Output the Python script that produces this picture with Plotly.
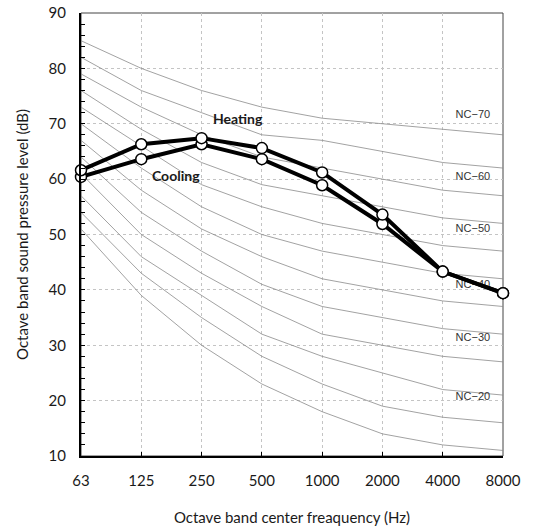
import plotly.graph_objects as go

# ---- data ----
freq_labels = ["63", "125", "250", "500", "1000", "2000", "4000", "8000"]
x_idx = list(range(len(freq_labels)))

nc_15 = [51, 39, 30, 23, 18, 14, 12, 11]
nc_20 = [54, 43, 35, 28, 23, 19, 17, 16]
nc_25 = [57, 46, 39, 32, 28, 25, 22, 21]
nc_30 = [61, 50, 43, 37, 32, 30, 28, 27]
nc_35 = [64, 54, 47, 41, 37, 35, 33, 32]
nc_40 = [67, 58, 51, 46, 42, 40, 38, 37]
nc_45 = [70, 62, 55, 50, 47, 45, 43, 42]
nc_50 = [73, 66, 59, 55, 52, 50, 48, 47]
nc_55 = [76, 69, 63, 59, 57, 55, 53, 52]
nc_60 = [79, 73, 68, 64, 62, 60, 58, 57]
nc_65 = [82, 76, 72, 68, 67, 65, 63, 62]
nc_70 = [85, 80, 76, 73, 71, 70, 69, 68]
nc_curves = [nc_15, nc_20, nc_25, nc_30, nc_35, nc_40,
             nc_45, nc_50, nc_55, nc_60, nc_65, nc_70]

nc_label_text = ["NC\u221270", "NC\u221260", "NC\u221250", "NC\u221240", "NC\u221230", "NC\u221220"]
nc_label_y = [71.6, 60.4, 51.0, 40.8, 31.2, 20.6]
nc_label_x = [6.5] * len(nc_label_text)

heating = [61.6, 66.3, 67.4, 65.6, 61.2, 53.6, 43.3, 39.4]
cooling = [60.4, 63.6, 66.3, 63.6, 58.9, 51.9, 43.3, 39.4]

fig = go.Figure()

for curve in nc_curves:
    fig.add_trace(go.Scatter(x=x_idx, y=curve, mode="lines",
                             line=dict(color="#8a8a8a", width=0.8),
                             hoverinfo="skip"))

fig.add_trace(go.Scatter(x=nc_label_x, y=nc_label_y, text=nc_label_text, mode="text",
                         textfont=dict(family="Liberation Sans", size=11, color="#333333"),
                         hoverinfo="skip"))

marker_style = dict(symbol="circle", size=11, color="white", line=dict(color="black", width=1.5))
fig.add_trace(go.Scatter(x=x_idx, y=cooling, mode="lines+markers", name="Cooling",
                         line=dict(color="black", width=4), marker=marker_style,
                         cliponaxis=False))
fig.add_trace(go.Scatter(x=x_idx, y=heating, mode="lines+markers", name="Heating",
                         line=dict(color="black", width=4), marker=marker_style,
                         cliponaxis=False))

fig.add_annotation(x=2.6, y=71.0, text="<b>Heating</b>", showarrow=False,
                   font=dict(family="Lato", size=14, color="#1a1a1a"))
fig.add_annotation(x=1.58, y=60.7, text="<b>Cooling</b>", showarrow=False,
                   font=dict(family="Lato", size=14, color="#1a1a1a"))

fig.add_shape(type="rect", xref="paper", yref="paper", x0=0, y0=0, x1=1, y1=1,
              line=dict(color="#444444", width=1), layer="below")

fig.update_layout(
    width=545, height=528,
    margin=dict(l=81, r=42, t=13, b=72),
    plot_bgcolor="white", paper_bgcolor="white",
    showlegend=False,
    font=dict(family="Lato", size=15, color="#1a1a1a"),
)
fig.update_xaxes(
    range=[0, 7], tickvals=x_idx, ticktext=freq_labels,
    showgrid=True, gridcolor="#c4c4c4", griddash="dot", gridwidth=1,
    showline=True, linecolor="black", linewidth=2,
    ticks="inside", ticklen=4, tickcolor="black",
    ticklabelstandoff=10, zeroline=False, automargin=False,
    ticklabeloverflow="allow",
    tickfont=dict(size=15),
    title=dict(text="Octave band center freaquency (Hz)", font=dict(size=15), standoff=24),
)
fig.update_yaxes(
    range=[10, 90], dtick=10,
    showgrid=True, gridcolor="#c4c4c4", griddash="dot", gridwidth=1,
    showline=True, linecolor="black", linewidth=2,
    ticks="inside", ticklen=4, tickcolor="black",
    minor=dict(dtick=2, ticks="inside", ticklen=4, tickcolor="black", showgrid=False),
    ticklabelstandoff=10, zeroline=False, automargin=False,
    ticklabeloverflow="allow",
    tickfont=dict(size=15),
    title=dict(text="Octave band sound pressure level (dB)", font=dict(size=15), standoff=16),
)

fig.write_html("out.html",
               config={"displayModeBar": False},
               post_script="document.body.style.margin='0px';document.body.style.overflow='hidden';")
